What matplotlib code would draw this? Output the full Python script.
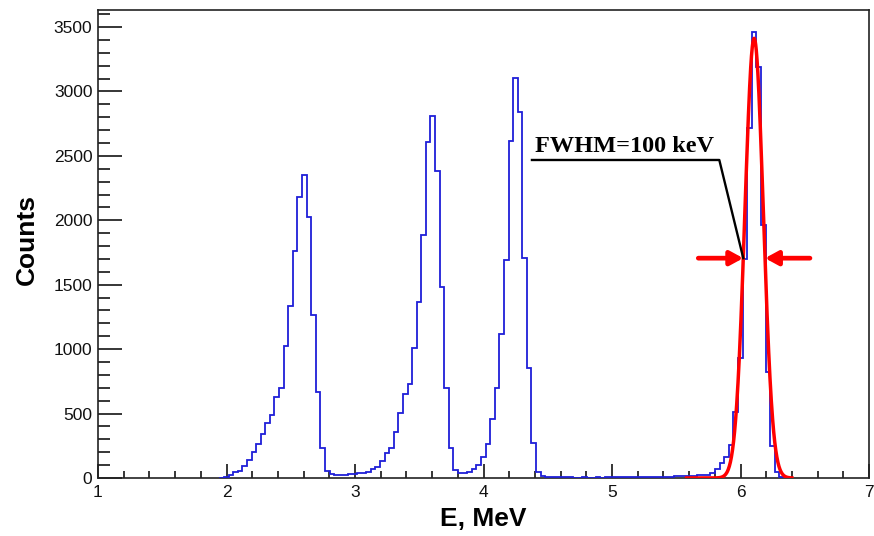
"""
plot.py

Energy spectrum (E, MeV) with a Gaussian fit on the 6.1 MeV peak
and a FWHM marker, ROOT-like look.
"""

import numpy as np
import matplotlib.pyplot as plt
from matplotlib.ticker import MultipleLocator


# ── data ──────────────────────────────────────────────────────────────────────
BIN_LO = 1.9446          # left edge of first bin, MeV
BIN_W = 1.0 / 28.0       # bin width, MeV

counts = [
    3, 8, 20, 45, 57, 90, 142, 200, 264, 344, 424, 491, 626, 696,
    1021, 1332, 1764, 2183, 2350, 2023, 1267, 665, 236, 55,
    30, 27, 26, 27, 28, 31, 36, 40, 49, 67, 88, 134, 191, 236,
    354, 502, 649, 727, 1006, 1366, 1888, 2605, 2808, 2385, 1480, 696, 230, 60,
    36, 38, 44, 70, 100, 162, 264, 458, 701, 1115, 1692, 2615, 3105, 2838,
    1710, 856, 274, 50, 15,
    8, 6, 5, 5, 4, 4, 3, 3, 4, 3, 3, 4, 3, 4, 5, 4, 5, 5, 6, 6,
    7, 7, 8, 8, 9, 10, 10, 11, 12, 13, 14, 15, 17, 20,
    22, 27, 40, 70, 120, 160, 256, 515, 929, 1700, 2714, 3465, 3190, 1960,
    825, 248, 50, 6,
]

# gaussian fit of the last peak
fit_amp = 3412.0
fit_mu = 6.106
fit_sigma = 0.0717
fit_range = (5.58, 6.40)

fwhm_text = 'FWHM=100 keV'

x_ticks = [1, 2, 3, 4, 5, 6, 7]
y_ticks = [0, 500, 1000, 1500, 2000, 2500, 3000, 3500]


# ── figure ────────────────────────────────────────────────────────────────────
fig = plt.figure(figsize=(8.74, 5.36), dpi=100)
ax = fig.add_axes([98 / 874, 58 / 536, 771 / 874, 468 / 536])

edges = BIN_LO + BIN_W * np.arange(len(counts) + 1)
ax.stairs(counts, edges, color='#1f1fd8', linewidth=1.3, baseline=0, zorder=3)

xf = np.linspace(fit_range[0], fit_range[1], 400)
yf = fit_amp * np.exp(-0.5 * ((xf - fit_mu) / fit_sigma) ** 2)
ax.plot(xf, yf, color='red', linewidth=2.5, zorder=4)

# FWHM arrows at half maximum
half = fit_amp / 2
hwhm = fit_sigma * np.sqrt(2 * np.log(2))
arrow_len = 0.35
for tip, sign in [(fit_mu - hwhm, -1), (fit_mu + hwhm, 1)]:
    ax.annotate('', xy=(tip, half), xytext=(tip + sign * arrow_len, half),
                arrowprops=dict(arrowstyle='-|>,head_length=0.55,head_width=0.3',
                                color='red', lw=3.4, shrinkA=0, shrinkB=0,
                                mutation_scale=14),
                zorder=5)

# leader line + label
label_x, label_y = 4.40, 2532
corner_x, line_y = 5.835, 2468
ax.plot([4.377, corner_x, fit_mu - hwhm], [line_y, line_y, half],
        color='black', linewidth=1.7, zorder=6)
ax.text(label_x, label_y, fwhm_text, fontsize=17.5, fontweight='bold',
        family='Liberation Serif', ha='left', va='baseline', zorder=6)

# ── axes style ────────────────────────────────────────────────────────────────
ax.set_xlim(1, 7)
ax.set_ylim(0, 3632)
ax.set_xticks(x_ticks)
ax.set_xticklabels([str(t) for t in x_ticks])
ax.set_yticks(y_ticks)
ax.set_yticklabels([str(t) for t in y_ticks])
ax.xaxis.set_minor_locator(MultipleLocator(0.2))
ax.yaxis.set_minor_locator(MultipleLocator(100))

ax.tick_params(axis='both', which='both', direction='in', color='black',
               width=1.1, labelsize=12.5, labelcolor='#111111')
ax.tick_params(axis='x', which='major', length=10, pad=5)
ax.tick_params(axis='x', which='minor', length=5)
ax.tick_params(axis='y', which='major', length=17, pad=4)
ax.tick_params(axis='y', which='minor', length=8.5)
for lab in ax.get_xticklabels() + ax.get_yticklabels():
    lab.set_family('Liberation Sans')

for sp in ax.spines.values():
    sp.set_linewidth(1.2)
    sp.set_color('#222222')

ax.set_xlabel('E, MeV', fontsize=19, fontweight='bold', family='Liberation Sans')
ax.set_ylabel('Counts', fontsize=19, fontweight='bold', family='Liberation Sans')
ax.xaxis.set_label_coords(0.5, -0.062)
ax.yaxis.set_label_coords(-0.077, 0.51)

fig.savefig('out.png', dpi=100)
